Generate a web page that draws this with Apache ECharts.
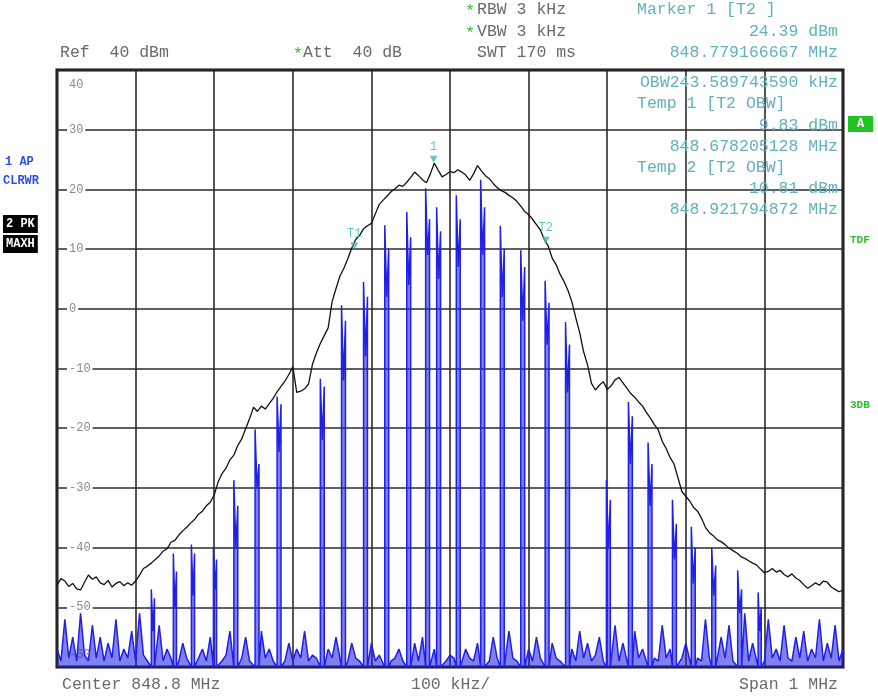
<!DOCTYPE html>
<html>
<head>
<meta charset="utf-8">
<script src="https://cdn.jsdelivr.net/npm/echarts@6/dist/echarts.min.js"></script>
<style>
html,body{margin:0;padding:0;background:#fff;}
#chart{width:878px;height:696px;}
</style>
</head>
<body>
<div id="chart"></div>
<script>
// ---- axis definitions (kHz offset from center 848.8 MHz, dBm) ----
const xTicksKHz = [-500,-400,-300,-200,-100,0,100,200,300,400,500];
const yTicks = [40,30,20,10,0,-10,-20,-30,-40,-50,-60];
const traceStartKHz = -500;
const traceStepKHz = 5;

// ---- Trace 2: PK MAXH (black envelope), one value per 5 kHz ----
const pkMaxh = [
-46.3,-45.2,-45.6,-46.5,-46.0,-46.9,-47.1,-45.8,-44.6,-45.3,
-44.9,-45.9,-46.2,-45.5,-46.6,-46.0,-45.7,-46.4,-45.9,-46.3,
-45.6,-44.6,-43.5,-43.1,-42.6,-42.0,-41.4,-40.6,-40.2,-39.1,
-38.8,-37.9,-37.2,-36.6,-35.9,-35.3,-34.4,-33.9,-33.0,-32.4,
-31.2,-29.0,-27.6,-26.7,-25.3,-24.5,-22.9,-21.8,-20.1,-18.4,
-16.5,-17.2,-16.3,-16.8,-15.9,-15.0,-13.9,-13.0,-12.1,-11.0,
-9.7,-14.0,-13.8,-13.4,-12.6,-9.3,-7.4,-5.8,-4.5,-3.2,
1.2,3.4,5.5,6.8,8.4,10.2,11.6,12.3,13.4,13.9,
14.3,15.9,17.5,18.2,18.9,19.6,20.1,20.7,20.5,21.2,
22.0,22.9,22.3,21.6,21.1,22.6,24.4,23.2,22.1,22.5,
23.0,22.8,23.3,22.9,22.4,21.5,22.6,24.0,23.1,22.3,
21.8,21.0,20.3,19.8,19.5,19.0,18.6,18.0,17.2,16.3,
15.8,15.0,14.1,13.2,11.6,10.5,8.5,7.4,5.8,4.6,
3.1,1.2,-1.5,-4.0,-7.2,-9.4,-12.5,-13.6,-12.8,-12.2,
-13.5,-12.9,-11.9,-11.5,-12.4,-13.3,-14.2,-14.8,-15.6,-16.3,
-17.4,-18.3,-19.4,-20.3,-22.2,-23.4,-24.9,-26.0,-28.3,-30.6,
-31.4,-32.2,-33.3,-33.9,-35.1,-36.6,-37.5,-38.0,-38.7,-39.0,
-39.5,-40.1,-40.5,-40.9,-41.5,-41.8,-42.2,-42.6,-42.9,-43.6,
-44.2,-44.0,-43.5,-44.1,-43.8,-44.5,-44.9,-44.4,-45.1,-45.5,
-46.2,-46.8,-46.4,-45.9,-46.3,-45.6,-45.8,-46.6,-47.0,-47.4,
-47.1
];

// ---- Trace 1: AP CLRWR (blue) noise floor, one value per 5 kHz ----
const apNoise = [
-57,-59,-52,-58.5,-55,-59,-51,-58,-59,-53,
-58.5,-55,-59,-56,-58.5,-52,-59,-57,-58.5,-54,
-59,-51,-58,-59,-55,-58.5,-53,-59,-57,-58.5,
-54,-59,-56,-58.5,-59,-53,-58.5,-57,-59,-55,
-58.5,-56,-59,-58,-54,-59,-57,-58.5,-55,-59,
-58,-59,-54,-58.5,-57,-59,-55,-58.5,-59,-56,
-59,-57,-58.5,-54,-59,-58,-58.5,-56,-59,-57,
-58.5,-55,-59,-58,-59,-56,-58.5,-59,-57,-58.5,
-56,-59,-58,-58.5,-55,-59,-58.5,-57,-59,-58,
-58.5,-56,-59,-55,-58.5,-59,-57,-58.5,-54,-59,
-58,-58.5,-55,-59,-57,-58.5,-59,-56,-58.5,-58,
-59,-55,-58.5,-57,-59,-54,-58.5,-59,-56,-58.5,
-57,-59,-55,-58.5,-58,-59,-56,-58.5,-59,-55,
-58.5,-57,-59,-54,-58.5,-56,-59,-58,-55,-59,
-57,-58.5,-53,-59,-56,-58.5,-59,-54,-58.5,-57,
-59,-55,-58.5,-59,-53,-58.5,-57,-59,-55,-58.5,
-56,-59,-54,-58.5,-59,-52,-58.5,-57,-59,-55,
-58.5,-53,-59,-57,-58.5,-51,-59,-56,-58.5,-54,
-59,-52,-58.5,-57,-59,-53,-58.5,-59,-55,-58.5,
-54,-59,-57,-58.5,-52,-59,-56,-58.5,-53,-59,
-57
];

// ---- Trace 1 bursts: [startKHz, endKHz, leftPeak, innerLevel, rightPeak] ----
const apBursts = [
[-380,-376,-47.0,-54,-48.5],
[-352,-348,-41.0,-50,-44.0],
[-329,-325,-39.5,-48,-41.0],
[-301,-297,-40.0,-47,-42.0],
[-275,-270,-28.7,-40,-33.0],
[-248,-243,-20.2,-30,-26.0],
[-220,-215,-14.7,-24,-16.0],
[-165,-160,-11.7,-22,-13.0],
[-138,-133,0.6,-12,-2.0],
[-110,-105,4.5,-8,2.0],
[-83,-78,14.0,2,10.0],
[-55,-50,16.2,4,12.0],
[-31,-26,20.2,9,15.0],
[-17,-12,17.0,5,13.0],
[8,13,19.0,7,15.0],
[39,44,21.6,9,17.0],
[64,69,13.9,2,10.0],
[90,95,9.8,-2,7.0],
[121,126,4.7,-6,1.0],
[147,152,-2.2,-14,-6.0],
[199,204,-28.7,-40,-32.0],
[227,232,-15.6,-26,-18.0],
[252,257,-22.4,-33,-26.0],
[283,288,-32.0,-42,-36.0],
[307,312,-36.5,-46,-40.0],
[333,338,-40.0,-48,-43.0],
[366,371,-43.8,-51,-47.0],
[392,396,-47.5,-54,-50.0]
];
const burstFloor = -60;

// ---- markers: [kHz offset, level dBm, label] ----
const markers = [
[-20.833, 24.39, '1'],
[-121.795, 9.83, 'T1'],
[121.795, 10.81, 'T2']
];

// ---- build series data ----
const blackData = pkMaxh.map((v, i) => [traceStartKHz + i * traceStepKHz, v]);
const bluePts = [];
apNoise.forEach((v, i) => {
  const x = traceStartKHz + i * traceStepKHz;
  const inBurst = apBursts.some(b => x >= b[0] - 2 && x <= b[1] + 2);
  if (!inBurst) bluePts.push([x, v]);
});
apBursts.forEach(b => {
  bluePts.push([b[0], burstFloor]);
  bluePts.push([b[0], b[2]]);
  bluePts.push([(b[0] + b[1]) / 2, b[3]]);
  bluePts.push([b[1], b[4]]);
  bluePts.push([b[1], burstFloor]);
});
bluePts.sort((a, b) => a[0] - b[0]);

const mono = '"Liberation Mono", "DejaVu Sans Mono", monospace';
const headFont = '16.5px ' + mono;
const gray = '#6a6a6a';
const teal = '#62b2ba';
const green = '#2fbf2f';

function txt(x, y, s, color, align, font, extra) {
  return {
    type: 'text', x: x, y: y, z: 50,
    style: Object.assign({
      text: s, fill: color, font: font || headFont,
      align: align || 'left', verticalAlign: 'middle'
    }, extra || {})
  };
}

const graphics = [
  txt(60, 53, 'Ref  40 dBm', gray),
  txt(293, 55, '*', green),
  txt(303, 53, 'Att  40 dB', gray),
  txt(465, 12, '*', green),
  txt(477, 10, 'RBW 3 kHz', gray),
  txt(465, 34, '*', green),
  txt(477, 32, 'VBW 3 kHz', gray),
  txt(477, 53, 'SWT 170 ms', gray),
  txt(637, 10, 'Marker 1 [T2 ]', teal),
  txt(838, 32, '24.39 dBm', teal, 'right'),
  txt(838, 53, '848.779166667 MHz', teal, 'right'),
  txt(838, 83, 'OBW243.589743590 kHz', teal, 'right'),
  txt(637, 104, 'Temp 1 [T2 OBW]', teal),
  txt(838, 126, '9.83 dBm', teal, 'right'),
  txt(838, 147, '848.678205128 MHz', teal, 'right'),
  txt(637, 168, 'Temp 2 [T2 OBW]', teal),
  txt(838, 189, '10.81 dBm', teal, 'right'),
  txt(838, 210, '848.921794872 MHz', teal, 'right'),
  txt(5, 162, '1 AP', '#2f4fe8', 'left', 'bold 12px ' + mono),
  txt(3, 181, 'CLRWR', '#2f4fe8', 'left', 'bold 12px ' + mono),
  txt(3, 224, '2 PK', '#fff', 'left', 'bold 12px ' + mono, {backgroundColor: '#000', padding: [3, 3]}),
  txt(3, 244, 'MAXH', '#fff', 'left', 'bold 12px ' + mono, {backgroundColor: '#000', padding: [3, 3]}),
  txt(848, 124, 'A', '#fff', 'left', 'bold 12px ' + mono, {backgroundColor: '#22c322', padding: [2, 9]}),
  txt(850, 240, 'TDF', green, 'left', 'bold 11px ' + mono),
  txt(850, 405, '3DB', green, 'left', 'bold 11px ' + mono),
  txt(62, 685, 'Center 848.8 MHz', gray),
  txt(411, 685, '100 kHz/', gray),
  txt(838, 685, 'Span 1 MHz', gray, 'right')
];

const chart = echarts.init(document.getElementById('chart'), null, {renderer: 'canvas'});
chart.setOption({
  animation: false,
  backgroundColor: '#fff',
  grid: {left: 57, top: 70, width: 786, height: 597, show: true,
         borderColor: '#111', borderWidth: 3, backgroundColor: 'transparent'},
  xAxis: {
    type: 'value', min: xTicksKHz[0], max: xTicksKHz[xTicksKHz.length - 1], interval: 100,
    axisLine: {show: false}, axisTick: {show: false}, axisLabel: {show: false},
    splitLine: {show: true, lineStyle: {color: '#2b2b2b', width: 1.6}}
  },
  yAxis: {
    type: 'value', min: yTicks[yTicks.length - 1], max: yTicks[0], interval: 10,
    axisLine: {show: false}, axisTick: {show: false},
    splitLine: {show: true, lineStyle: {color: '#2b2b2b', width: 1.6}},
    axisLabel: {
      inside: true, margin: 10, color: '#8a8a8a', fontSize: 12, fontFamily: mono,
      formatter: function (v) {
        if (v === yTicks[0]) return '{t|' + v + '}';
        if (v === yTicks[yTicks.length - 1]) return '{b|' + v + '}';
        return '{n|' + v + '}';
      },
      rich: {
        n: {backgroundColor: '#fff', padding: [1, 2], color: '#8a8a8a', fontSize: 12, fontFamily: mono},
        t: {padding: [30, 0, 0, 2], color: '#8a8a8a', fontSize: 12, fontFamily: mono},
        b: {padding: [0, 0, 24, 2], color: '#8a8a8a', fontSize: 12, fontFamily: mono}
      }
    }
  },
  graphic: graphics,
  series: [
    {
      type: 'line', name: '1 AP CLRWR', data: bluePts, showSymbol: false, symbol: 'none',
      sampling: null, clip: true, z: 3,
      lineStyle: {color: '#2020e8', width: 1.5},
      areaStyle: {origin: 'start', color: 'rgba(28,28,225,0.8)'}
    },
    {
      type: 'line', name: '2 PK MAXH', data: blackData, showSymbol: false, symbol: 'none',
      clip: true, z: 4,
      lineStyle: {color: '#111', width: 1.3}
    },
    {
      type: 'scatter', name: 'markers', z: 6,
      data: markers.map(m => ({value: [m[0], m[1]], name: m[2]})),
      symbol: 'triangle', symbolRotate: 180, symbolSize: [8, 7], symbolOffset: [0, -4],
      itemStyle: {color: '#3fb5b5'},
      label: {show: true, position: 'top', distance: 3, formatter: '{b}',
              color: '#3fb5b5', fontSize: 12, fontFamily: mono}
    }
  ]
});
</script>
</body>
</html>
